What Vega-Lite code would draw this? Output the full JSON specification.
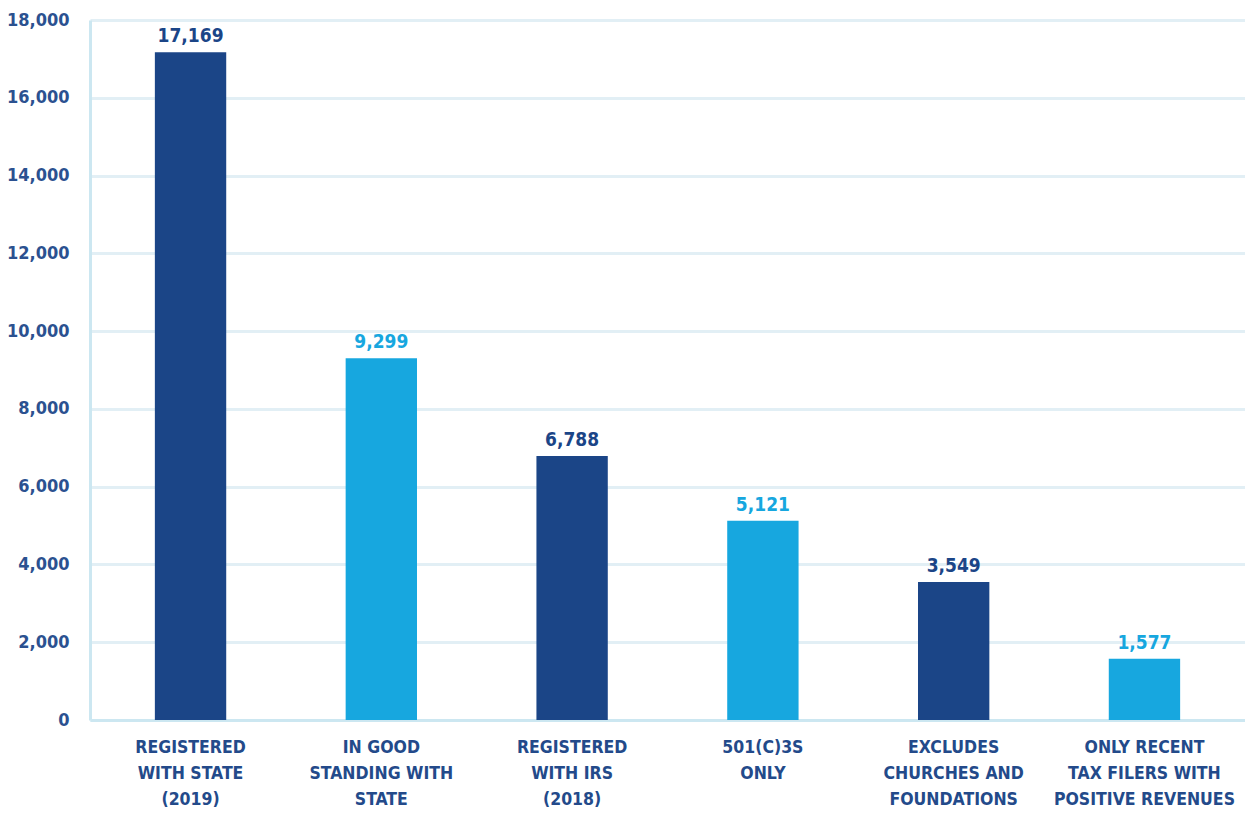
{
  "$schema": "https://vega.github.io/schema/vega-lite/v6.json",
  "width": 1155,
  "height": 700,
  "autosize": "none",
  "padding": {"left": 90, "top": 20, "right": 0, "bottom": 93},
  "background": "white",
  "config": {
    "view": {"stroke": null},
    "font": "DejaVu Sans Condensed"
  },
  "data": {
    "values": [
      {"stage": "REGISTERED|WITH STATE|(2019)", "count": 17169, "tone": "dark"},
      {"stage": "IN GOOD|STANDING WITH|STATE", "count": 9299, "tone": "light"},
      {"stage": "REGISTERED|WITH IRS|(2018)", "count": 6788, "tone": "dark"},
      {"stage": "501(C)3S|ONLY", "count": 5121, "tone": "light"},
      {"stage": "EXCLUDES|CHURCHES AND|FOUNDATIONS", "count": 3549, "tone": "dark"},
      {"stage": "ONLY RECENT|TAX FILERS WITH|POSITIVE REVENUES", "count": 1577, "tone": "light"}
    ]
  },
  "encoding": {
    "x": {
      "field": "stage",
      "type": "nominal",
      "sort": null,
      "scale": {"paddingInner": 0.626, "paddingOuter": 0.34},
      "axis": {
        "title": null,
        "labelAngle": 0,
        "labelExpr": "split(datum.value, '|')",
        "labelFont": "DejaVu Sans Condensed",
        "labelFontSize": 17.5,
        "labelFontWeight": "bold",
        "labelColor": "#234a8a",
        "labelLineHeight": 26,
        "labelPadding": 18,
        "labelBaseline": "top",
        "labelLimit": 0,
        "labelOverlap": false,
        "ticks": false,
        "domainColor": "#cce7f1",
        "domainWidth": 3
      }
    },
    "y": {
      "field": "count",
      "type": "quantitative",
      "scale": {"domain": [0, 18000], "nice": false},
      "axis": {
        "title": null,
        "values": [0, 2000, 4000, 6000, 8000, 10000, 12000, 14000, 16000, 18000],
        "labelExpr": "format(datum.value, ',')",
        "labelFont": "DejaVu Sans Condensed",
        "labelFontSize": 18,
        "labelFontWeight": "bold",
        "labelColor": "#2b5190",
        "labelPadding": 21,
        "ticks": false,
        "domainColor": "#cce7f1",
        "domainWidth": 3,
        "gridColor": "#e2eff5",
        "gridWidth": 3
      }
    },
    "color": {
      "field": "tone",
      "type": "nominal",
      "scale": {"domain": ["dark", "light"], "range": ["#1b4587", "#17a7df"]},
      "legend": null
    }
  },
  "layer": [
    {"mark": {"type": "bar"}},
    {
      "mark": {"type": "text", "baseline": "bottom", "dy": -6, "fontSize": 19, "fontWeight": "bold", "font": "DejaVu Sans Condensed"},
      "encoding": {
        "text": {"field": "count", "type": "quantitative", "format": ","}
      }
    }
  ]
}
